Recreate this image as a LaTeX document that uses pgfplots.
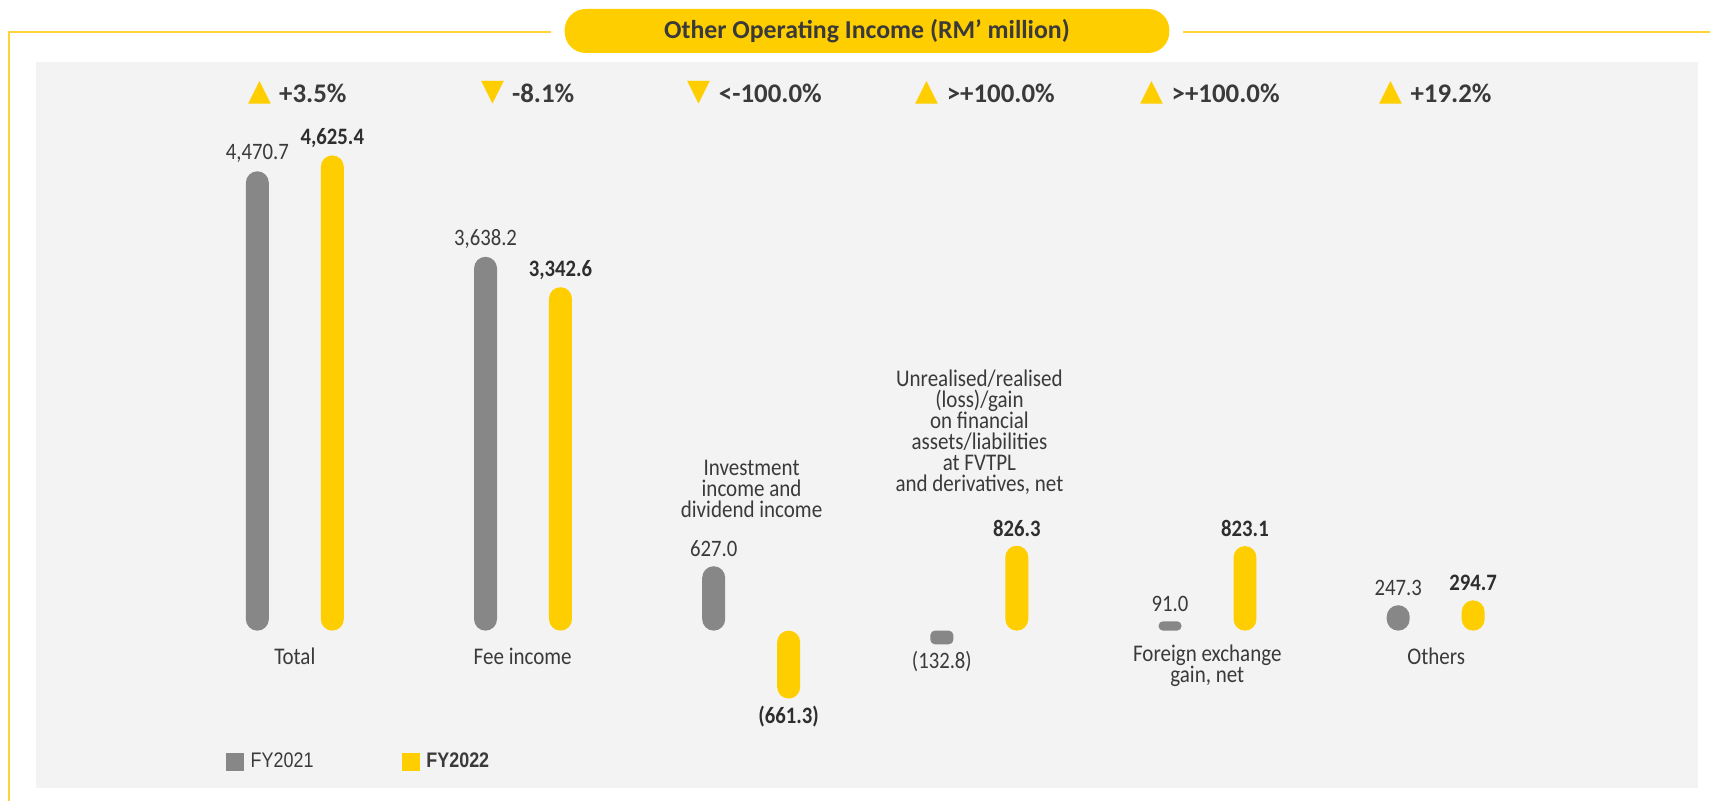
\documentclass[border=0pt]{standalone}
\usepackage{fontspec}
\setmainfont{Carlito}[FakeStretch=0.88]
\newfontfamily\pctfont{Carlito}
\newfontfamily\symfont{DejaVu Sans}
\newfontfamily\legfont{Liberation Sans}[FakeStretch=0.85]
\usepackage{pgfplots}
\pgfplotsset{compat=1.18}
\usepackage{pgfplotstable}

\definecolor{fygray}{HTML}{878787}
\definecolor{fyyellow}{HTML}{FFCE00}
\definecolor{panel}{HTML}{F3F3F3}
\definecolor{txt}{HTML}{3A3A3A}
\definecolor{frameyellow}{HTML}{FFD43B}

% FY2021 and FY2022, RM' million
\pgfplotstableread{
x y label
0 4470.7 4,470.7
1 3638.2 3,638.2
2 627.0 627.0
3 -132.8 (132.8)
4 91.0 91.0
5 247.3 247.3
}\fyA
\pgfplotstableread{
x y label
0 4625.4 4,625.4
1 3342.6 3,342.6
2 -661.3 (661.3)
3 826.3 826.3
4 823.1 823.1
5 294.7 294.7
}\fyB

\begin{document}
\begin{tikzpicture}
% background, frame and title (1 unit = 1 px of the reference)
\begin{scope}[x=0.2mm,y=-0.2mm,shift={(0mm,160.2mm)}]
  \path (0,0) rectangle (1711,801);
  \fill[panel] (36,62) rectangle (1699,788);
  \draw[frameyellow,line width=0.4mm] (9,801) -- (9,32) -- (551,32);
  \draw[frameyellow,line width=0.4mm] (1184,32) -- (1711,32);
  \fill[fyyellow,rounded corners=4.2mm] (565,9) rectangle (1170,53);
  \node[font=\pctfont\bfseries\fontsize{14.7}{16}\selectfont,text=txt] at (867.5,31) {Other Operating Income (RM’ million)};
\end{scope}

\begin{axis}[
    at={(0mm,0mm)}, anchor=south west,
    scale only axis, width=342.2mm, height=160.2mm,
    xmin=-1.29216, xmax=6.20237, ymin=-1653.7, ymax=6138.1,
    hide axis, clip=false,
    ybar, bar width=4.6mm,
    point meta=explicit symbolic,
    nodes near coords,
    visualization depends on={y \as \rawy},
    every node near coord/.append style={anchor=center, inner sep=0pt,
        font=\fontsize{13.4}{14}\selectfont, text=txt,
        yshift={(2*(\rawy>0)-1)*3.5mm}},
    legend columns=2,
    legend style={at={(rel axis cs:0.13209,0.04869)}, anchor=west,
        draw=none, fill=none, inner sep=0pt,
        font=\legfont\fontsize{12}{14}\selectfont, text=txt,
        /tikz/every odd column/.append style={column sep=0.6mm},
        /tikz/every even column/.append style={column sep=17mm}},
    legend image code/.code={\fill[#1,sharp corners] (0mm,-1.8mm) rectangle (3.6mm,1.8mm);},
]
\addplot[fill=fygray, draw=none, bar shift=-7.5mm, rounded corners=2.3mm,
    y filter/.expression={abs(y)<200 ? nan : y}]
    table[x=x, y=y, meta=label] {\fyA};
\addlegendentry{FY2021}
\addplot[fill=fyyellow, draw=none, bar shift=7.5mm, rounded corners=2.3mm,
    every node near coord/.append style={font=\bfseries\fontsize{13.4}{14}\selectfont, text=black!82}]
    table[x=x, y=y, meta=label] {\fyB};
\addlegendentry{\textbf{FY2022}}
% the two very short FY2021 bars, with smaller rounding
\addplot[forget plot, fill=fygray, draw=none, bar shift=-7.5mm, rounded corners=0.9mm,
    y filter/.expression={abs(y)<200 ? y : nan}]
    table[x=x, y=y, meta=label] {\fyA};
\end{axis}

% change labels and category names
\begin{scope}[x=0.2mm,y=-0.2mm,shift={(0mm,160.2mm)}]
  \tikzset{tri/.style={font=\symfont\fontsize{17}{17}\selectfont,text=fyyellow,inner sep=0pt},
           pct/.style={anchor=west,inner sep=0pt,font=\pctfont\bfseries\fontsize{15.3}{16}\selectfont,text=txt},
           cat/.style={align=center,inner sep=0pt,font=\fontsize{13.6}{11.9}\selectfont,text=txt}}
  \node[tri] at (260,93) {▲};    \node[pct] at (279,93) {+3.5\%};
  \node[tri] at (493,93) {▼};    \node[pct] at (512,93) {-8.1\%};
  \node[tri] at (699.5,93) {▼};  \node[pct] at (719,93) {<-100.0\%};
  \node[tri] at (927.5,93) {▲};  \node[pct] at (947,93) {>+100.0\%};
  \node[tri] at (1152.3,93) {▲}; \node[pct] at (1172,93) {>+100.0\%};
  \node[tri] at (1391.3,93) {▲}; \node[pct] at (1411,93) {+19.2\%};

  \node[cat] at (295,657) {Total};
  \node[cat] at (523,657) {Fee income};
  \node[cat] at (752,489) {Investment\\income and\\dividend income};
  \node[cat] at (980,432.5) {Unrealised/realised\\(loss)/gain\\on financial\\assets/liabilities\\at FVTPL\\and derivatives, net};
  \node[cat] at (1208,666) {Foreign exchange\\gain, net};
  \node[cat] at (1437,657) {Others};
\end{scope}
\end{tikzpicture}
\end{document}
